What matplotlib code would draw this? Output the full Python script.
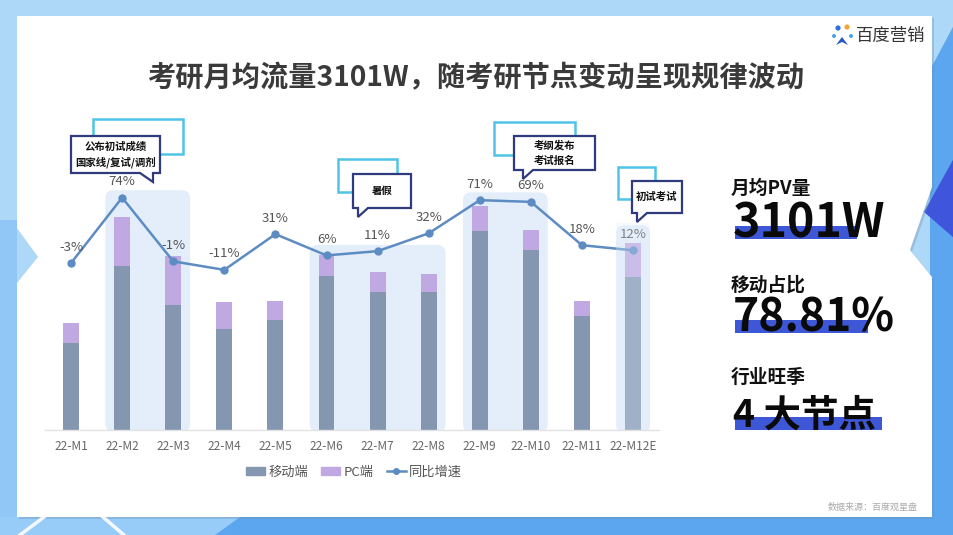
import matplotlib
matplotlib.use('Agg')
import matplotlib.pyplot as plt
from matplotlib.patches import Polygon, Rectangle, FancyBboxPatch, Patch
from matplotlib.lines import Line2D
import numpy as np

plt.rcParams['font.family'] = ['Noto Sans CJK SC', 'DejaVu Sans']

# data (万 PV)
months = ['22-M1', '22-M2', '22-M3', '22-M4', '22-M5', '22-M6',
          '22-M7', '22-M8', '22-M9', '22-M10', '22-M11', '22-M12E']
mobile = [1640, 3080, 2350, 1900, 2070, 2900, 2590, 2590, 3740, 3380, 2140, 2880]
pc = [380, 920, 920, 510, 360, 400, 380, 340, 470, 380, 280, 640]
growth = [-3, 74, -1, -11, 31, 6, 11, 32, 71, 69, 18, 12]
series_names = ['移动端', 'PC端', '同比增速']

# peak periods (first month, last month) and the top of their shaded box
highlight_groups = [(1, 2), (5, 7), (8, 9), (11, 11)]
highlight_tops = [4510, 3480, 4470, 3850]

title = '考研月均流量3101W，随考研节点变动呈现规律波动'
kpi_labels = ['月均PV量', '移动占比', '行业旺季']
kpi_values = ['3101W', '78.81%', '4 大节点']
callout_texts = ['公布初试成绩\n国家线/复试/调剂', '暑假', '考纲发布\n考试报名', '初试考试']
source = '数据来源：百度观星盘'

c_mobile = '#8496B0'
c_pc = '#C0A9E2'
c_line = '#5D8CC3'
c_box = '#E3EEFA'
navy = '#2F3B7C'
cyan = '#4FC4E8'

W, H = 954, 535
fig = plt.figure(figsize=(W / 100, H / 100), dpi=100)
fig.patch.set_facecolor('#ADD8F8')

# ---- background / card (pixel coords, y down)
bg = fig.add_axes([0, 0, 1, 1], zorder=0)
bg.set_xlim(0, W)
bg.set_ylim(H, 0)
bg.axis('off')
bg.add_patch(Polygon([(0, 220), (17, 220), (17, 535), (0, 535)], color='#90C7F6', lw=0))
bg.add_patch(Polygon([(0, 517), (240, 517), (215, 535), (0, 535)], color='#98CCF8', lw=0))
bg.plot([20, 44], [535, 517], color='white', lw=2.5, alpha=0.9)
bg.plot([103, 124], [517, 535], color='white', lw=2.5, alpha=0.9)
bg.add_patch(Polygon([(930, 70), (954, 25), (954, 535), (215, 535), (240, 517), (930, 517)],
                     color='#5BA6EF', lw=0))
bg.add_patch(Polygon([(954, 158), (924, 212), (954, 238)], color='#3F56DC', lw=0))
card = [(17, 16), (932, 16), (932, 187), (910, 250), (932, 277), (932, 517),
        (17, 517), (17, 283), (38, 257), (17, 228)]
bg.add_patch(Polygon([(x + 2, y + 2) for x, y in card], color='#6E8FB0', alpha=0.35, lw=0))
bg.add_patch(Polygon(card, color='white', lw=0))

# ---- chart
ax = fig.add_axes([45.5 / W, 105 / H, 613.1 / W, 319 / H], zorder=1)
ax.patch.set_alpha(0)
x = np.arange(len(months))
bw = 0.31
ax.set_xlim(-0.5, 11.5)
ax.set_ylim(0, 6000)

for (a, b), top in zip(highlight_groups, highlight_tops):
    ax.add_patch(FancyBboxPatch((a - 0.33, -38), (b - a) + 0.66, top + 38,
                                boxstyle='round,pad=0,rounding_size=0.16',
                                mutation_aspect=960, fc=c_box, ec='none', zorder=0))

ax.bar(x, mobile, bw, color=c_mobile, zorder=2, label=series_names[0])
ax.bar(x, pc, bw, bottom=mobile, color=c_pc, zorder=2, label=series_names[1])

for s in ['top', 'right', 'left']:
    ax.spines[s].set_visible(False)
ax.spines['bottom'].set_color('#E2E2E2')
ax.spines['bottom'].set_linewidth(1)
ax.set_yticks([])
ax.set_xticks(x)
ax.set_xticklabels(months, color='#666666', fontsize=8.5)
ax.tick_params(axis='x', length=0, pad=7)

ax2 = ax.twinx()
ax2.patch.set_alpha(0)
ax2.set_ylim(-199.4, 175.9)
ax2.axis('off')
ax2.plot(x, growth, color=c_line, lw=1.8, marker='o', ms=5, zorder=3)
for xi, g in zip(x, growth):
    ax2.annotate(f'{g}%', (xi, g), xytext=(0, 11.5), textcoords='offset points',
                 ha='center', va='center', fontsize=9.5, color='#555555', zorder=4)
# last month is an estimate: faded overlay
a, b = highlight_groups[-1]
ax2.add_patch(Rectangle((a - 0.33, -199.4), (b - a) + 0.66,
                        (highlight_tops[-1] + 38) / 6000 * 375.3,
                        fc=c_box, ec='none', alpha=0.3, zorder=5))

handles = [Patch(color=c_mobile), Patch(color=c_pc),
           Line2D([], [], color=c_line, lw=1.8, marker='o', ms=4)]
fig.legend(handles, series_names, loc='center', bbox_to_anchor=(354 / W, 1 - 472 / H),
           ncol=3, frameon=False, fontsize=9.5, handlelength=1.45, handleheight=0.55,
           handletextpad=0.25, columnspacing=1.0, labelcolor='#555555')

# ---- foreground: title, callouts, KPIs
fg = fig.add_axes([0, 0, 1, 1], zorder=3)
fg.patch.set_alpha(0)
fg.set_xlim(0, W)
fg.set_ylim(H, 0)
fg.axis('off')

fg.text(476, 78, title, ha='center', va='center', fontsize=20.3, fontweight='bold', color='#3A3A3A')

# callout boxes: cyan frame, bubble rect, tail (left x, right x, tip x)
frames = [(93, 119, 183, 154), (338, 159, 397, 192), (494, 122, 575, 155), (618, 167, 655, 199)]
bubbles = [(71, 136, 160, 173), (353, 174, 411, 208), (514, 136, 595, 170), (632, 181, 682, 213)]
tails = [(140, 153, 153), (358, 368, 358), (523, 533, 523), (637, 647, 637)]
for fr, bu, tl, txt in zip(frames, bubbles, tails, callout_texts):
    fg.add_patch(Rectangle((fr[0], fr[1]), fr[2] - fr[0], fr[3] - fr[1], fill=False,
                           ec=cyan, lw=1.8))
    x0, y0, x1, y1 = bu
    pts = [(x0, y0), (x1, y0), (x1, y1), (tl[1], y1), (tl[2], y1 + 9), (tl[0], y1), (x0, y1)]
    fg.add_patch(Polygon(pts, closed=True, fc='white', ec=navy, lw=1.6, joinstyle='miter'))
    fg.text((x0 + x1) / 2, (y0 + y1) / 2, txt, ha='center', va='center', fontsize=7.5,
            fontweight='bold', color='#111111', linespacing=1.55)

label_y = [188, 285, 377]
value_base = [237, 331, 427]
value_size = [33.5, 32, 27]
underline = [(735, 226, 857, 239), (735, 320, 868, 333), (735, 417, 882, 430)]
for lab, val, ly, vy, vs, ul in zip(kpi_labels, kpi_values, label_y, value_base, value_size, underline):
    fg.add_patch(Rectangle((ul[0], ul[1]), ul[2] - ul[0], ul[3] - ul[1], color='#3D57D6', lw=0))
    fg.text(731, ly, lab, ha='left', va='center', fontsize=13.5, fontweight='bold', color='#111111')
    fg.text(733, vy, val, ha='left', va='baseline', fontsize=vs, fontweight='black', color='#0A0A0A')

# logo
fg.scatter([838, 847, 834, 851], [28, 27, 36, 36], s=[14, 14, 8, 8],
           color=['#2F6FE0', '#F2A33A', '#3FA0F0', '#3FA0F0'], lw=0)
fg.add_patch(Polygon([(836, 45), (842, 37), (848, 45), (842, 42)], color='#2A55C8', lw=0))
fg.text(856, 36, '百度营销', ha='left', va='center', fontsize=12.5, color='#333333')

fg.text(918, 507, source, ha='right', va='center', fontsize=6.5, color='#AAAAAA')

fig.savefig('out.png', dpi=100, facecolor=fig.get_facecolor())
